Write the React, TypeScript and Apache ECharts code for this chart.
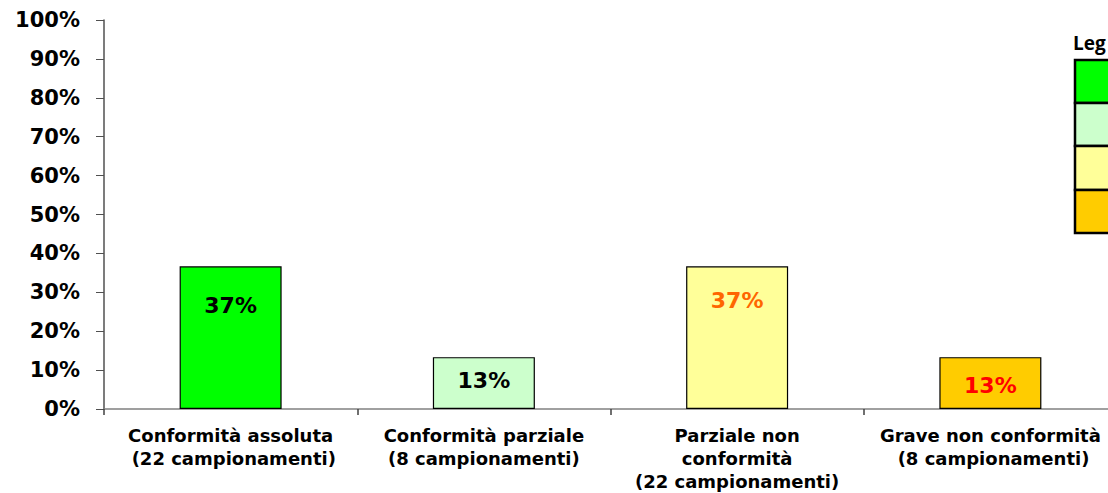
import React, { useEffect, useRef } from "react";
import * as echarts from "echarts";

const categories = [
  "Conformità assoluta\n (22 campionamenti)",
  "Conformità parziale\n(8 campionamenti)",
  "Parziale non\nconformità\n(22 campionamenti)",
  "Grave non conformità\n (8 campionamenti)",
];
const values = [36.67, 13.33, 36.67, 13.33];
const valueLabels = ["37%", "13%", "37%", "13%"];
const barColors = ["#00FF00", "#CCFFCC", "#FFFF99", "#FFCC00"];
const labelColors = ["#000000", "#000000", "#FF6600", "#FF0000"];
const legendColors = ["#00FF00", "#CCFFCC", "#FFFF99", "#FFCC00"];

const FONT = "DejaVu Sans";

export default function App() {
  const ref = useRef<HTMLDivElement>(null);
  useEffect(() => {
    if (!ref.current) return;
    const chart = echarts.init(ref.current, null, { renderer: "svg" });
    const labelDist = [28, 12, 23, 17];
    const legendTops = [60, 103, 146, 190, 233];
    const option: any = {
      animation: false,
      backgroundColor: "#ffffff",
      grid: { left: 104, top: 20, bottom: 83, width: 1013, containLabel: false },
      xAxis: {
        type: "category",
        data: categories,
        axisLine: { lineStyle: { color: "#808080", width: 1.5 } },
        axisTick: { show: true, length: 6, interval: 0, lineStyle: { color: "#404040", width: 1.5 } },
        axisLabel: {
          interval: 0,
          margin: 15,
          color: "#000",
          fontFamily: FONT,
          fontWeight: "bold",
          fontSize: 18,
          lineHeight: 23,
        },
      },
      yAxis: {
        type: "value",
        min: 0,
        max: 100,
        interval: 10,
        splitLine: { show: false },
        axisLine: { show: true, lineStyle: { color: "#505050", width: 1.5 } },
        axisTick: { show: true, length: 8, lineStyle: { color: "#505050" } },
        axisLabel: {
          formatter: "{value}%",
          margin: 24,
          color: "#000",
          fontFamily: FONT,
          fontWeight: "bold",
          fontSize: 21,
        },
      },
      series: [
        {
          type: "bar",
          barWidth: 102,
          data: values.map((v, i) => ({
            value: v,
            itemStyle: { color: barColors[i], borderColor: "#000", borderWidth: 1.2 },
            label: {
              show: true,
              position: "insideTop",
              distance: labelDist[i],
              formatter: valueLabels[i],
              color: labelColors[i],
              fontFamily: FONT,
              fontWeight: "bold",
              fontSize: 22,
            },
          })),
        },
      ],
      graphic: [
        {
          type: "text",
          left: 1073,
          top: 33,
          style: {
            text: "Leg",
            fontFamily: "Open Sans",
            fontWeight: "bold",
            fontSize: 19,
            fill: "#000",
          },
        },
        ...legendColors.map((c, i) => ({
          type: "rect",
          shape: { x: 1075, y: legendTops[i], width: 60, height: legendTops[i + 1] - legendTops[i] },
          style: { fill: c, stroke: "#000", lineWidth: 2.5 },
        })),
      ],
    };
    chart.setOption(option);
    return () => chart.dispose();
  }, []);
  return (
    <div style={{ position: "fixed", left: 0, top: 0, width: 1108, height: 493, overflow: "hidden", background: "#fff" }}>
      <div ref={ref} style={{ position: "absolute", left: 0, top: 0, width: 1130, height: 493 }} />
    </div>
  );
}
